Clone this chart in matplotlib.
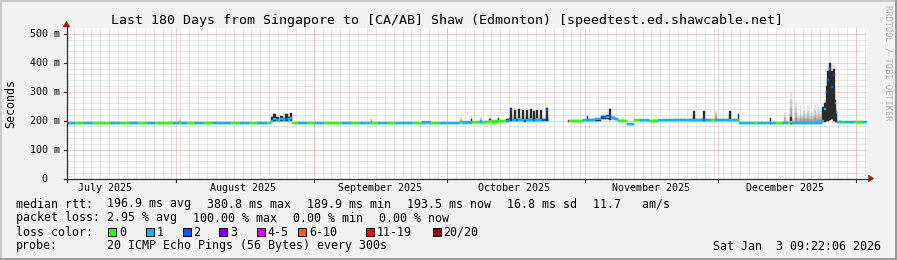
import numpy as np
import matplotlib
matplotlib.use("Agg")
import matplotlib.pyplot as plt
from matplotlib.patches import Rectangle, Polygon
from matplotlib.lines import Line2D
from datetime import datetime

plt.rcParams['font.family'] = ['DejaVu Sans Mono', 'DejaVu Sans']

# ------------------------------------------------------------------ data
title = "Last 180 Days from Singapore to [CA/AB] Shaw (Edmonton) [speedtest.ed.shawcable.net]"
y_label = "Seconds"
start_time = datetime(2025, 7, 7, 9, 22, 6)
span_days = 180
month_labels = ["July 2025", "August 2025", "September 2025", "October 2025",
                "November 2025", "December 2025"]
month_label_dates = [datetime(2025, 7, 16), datetime(2025, 8, 16), datetime(2025, 9, 16),
                     datetime(2025, 10, 16), datetime(2025, 11, 16), datetime(2025, 12, 16)]
month_starts = [datetime(2025, 8, 1), datetime(2025, 9, 1), datetime(2025, 10, 1),
                datetime(2025, 11, 1), datetime(2025, 12, 1), datetime(2026, 1, 1)]
minor_grid_start = datetime(2025, 7, 9)
minor_grid_step_days = 2
y_max = 519.4
y_ticks = [0, 100, 200, 300, 400, 500]
y_tick_labels = ["0", "100 m", "200 m", "300 m", "400 m", "500 m"]
y_minor_step = 20

loss_labels = ["0", "1", "2", "3", "4-5", "6-10", "11-19", "20/20"]
loss_colors = ["#26ff00", "#00b8ff", "#0059ff", "#7e00ff", "#dd00ff", "#ff5e00", "#ff0000", "#a10000"]

# bins: start (days since start_time), each bin runs until the next start
t_start = [
    0, 2, 4, 6, 8, 10, 12, 14, 16, 18, 20, 22, 24, 25.3, 25.7, 27, 29, 31, 33, 35, 37, 39, 41, 43, 45,
    46.0, 46.5, 47.2, 47.7, 48.1, 48.7, 49.2, 49.8, 50.2,
    50.7, 52, 54, 56, 58, 60, 62, 64, 66, 68, 68.4, 68.8, 70, 72, 74, 76, 78, 80, 82, 84, 86, 88,
    88.6, 89, 90.9, 91.3, 93.1, 93.5, 95.0, 95.4, 97.0, 97.4,
    98.8, 99.5, 99.88, 100.33, 100.78, 101.23, 101.68, 102.13, 102.48, 102.93, 103.28, 103.73, 104.18, 104.63,
    104.88, 105.33, 105.68, 106.13, 106.58, 107.03, 107.78, 108.23,
    108.5,
    112.75, 113.15, 116.3, 117.0, 117.3,
    119.0, 120.2, 121.4, 122.0, 122.6, 123.3,
    124.0, 126.2,
    127.6, 129, 131, 133, 135, 137, 139, 140.9, 141.4, 143.1, 143.6, 145, 146.0, 146.4, 148, 149.0, 149.4, 151.0,
    151.4, 154.6, 155.5, 158.2, 158.6, 159.6, 161.1, 161.4, 161.8, 162.3, 162.8, 163.2, 163.9, 164.25,
    165.0, 165.35, 165.8, 166.15, 166.6, 166.95, 167.4, 167.75, 168.2, 168.55, 169.0, 169.35,
    170.0, 170.4, 170.8, 171.2, 171.6, 172.0, 172.4, 172.8, 173.1,
    173.4, 174.5, 175.2, 177.5, 179.3,
]
median_ms = [
    192, 192, 193, 192, 192, 191, 192, 192, 192, 193, 192, 192, 192, 193, 192, 192, 191, 192, 192, 192, 192, 193, 192, 192, 192,
    200, 205, 203, 198, 205, 204, 206, 204, 208,
    193, 193, 192, 193, 193, 193, 192, 193, 193, 193, 194, 193, 193, 192, 193, 193, 193, 194, 193, 193, 193, 193,
    195, 194, 196, 195, 197, 196, 198, 197, 199, 198,
    200, 203, 238, 201, 203, 202, 204, 201, 202, 200, 203, 201, 204, 202,
    203, 201, 204, 202, 203, 201, 236, 202,
    np.nan,
    198, 200, 202, 202, 203,
    205, 212, 213, 216, 210, 206,
    200, 188,
    201, 201, 200, 201, 201, 202, 201, 203, 201, 204, 201, 201, 202, 201, 201, 203, 201, 202,
    192, 192, 192, 194, 192, 192, 192, 192, 192, 192, 195, 192, 192, 192,
    192, 192, 192, 192, 192, 192, 192, 192, 192, 192, 192, 192,
    200, 240, 298, 340, 380, 317, 359, 262, 229,
    196, 195, 195, 196, 195,
]
loss_idx = [
    1, 0, 1, 0, 0, 1, 0, 1, 0, 1, 0, 0, 1, 0, 1, 0, 1, 0, 1, 1, 0, 1, 0, 1, 0,
    1, 1, 1, 0, 1, 1, 2, 1, 1,
    0, 1, 0, 1, 0, 0, 1, 0, 1, 0, 1, 0, 1, 0, 1, 1, 0, 1, 0, 1, 1, 1,
    0, 1, 1, 0, 1, 0, 0, 0, 0, 0,
    1, 1, 3, 1, 1, 2, 1, 1, 1, 2, 1, 1, 1, 1,
    2, 1, 1, 1, 1, 2, 2, 1,
    0,
    6, 0, 1, 1, 1,
    1, 2, 1, 2, 1, 1,
    0, 1,
    0, 1, 0, 1, 1, 1, 1, 1, 1, 2, 1, 0, 1, 1, 1, 1, 1, 0,
    1, 0, 1, 1, 1, 0, 1, 1, 1, 0, 0, 1, 1, 1,
    1, 1, 1, 1, 1, 1, 1, 1, 1, 1, 1, 1,
    1, 1, 2, 2, 2, 2, 3, 1, 1,
    1, 0, 1, 0, 1,
]
smoke_min_ms = [
    188, 188, 189, 188, 188, 187, 188, 188, 188, 189, 188, 188, 188, 189, 188, 188, 187, 188, 188, 188, 188, 189, 188, 188, 188,
    196, 198, 198, 194, 198, 198, 198, 198, 200,
    189, 189, 188, 189, 189, 189, 188, 189, 189, 189, 190, 189, 189, 188, 189, 189, 189, 190, 189, 189, 189, 189,
    191, 190, 192, 191, 193, 192, 194, 193, 195, 194,
    196, 198, 198, 197, 198, 198, 198, 197, 198, 196, 198, 197, 198, 198,
    198, 197, 198, 198, 198, 197, 198, 198,
    np.nan,
    194, 196, 198, 198, 199,
    200, 204, 206, 202, 204, 202,
    196, 184,
    197, 197, 196, 197, 197, 198, 197, 198, 197, 198, 197, 197, 198, 197, 197, 198, 197, 198,
    188, 188, 188, 189, 188, 188, 188, 188, 188, 188, 189, 188, 188, 188,
    188, 188, 188, 188, 188, 188, 188, 188, 188, 188, 188, 188,
    194, 196, 198, 200, 202, 204, 200, 196, 194,
    192, 191, 191, 192, 191,
]
smoke_max_ms = [
    196, 196, 197, 196, 196, 195, 196, 196, 196, 197, 196, 196, 196, 205, 196, 196, 195, 196, 196, 197, 196, 197, 196, 196, 197,
    216, 225, 215, 206, 219, 214, 225, 224, 228,
    197, 197, 196, 197, 197, 197, 196, 197, 197, 197, 210, 197, 197, 196, 197, 197, 197, 198, 197, 197, 198, 198,
    212, 199, 217, 200, 214, 201, 212, 202, 216, 203,
    208, 212, 248, 214, 242, 214, 244, 212, 240, 214, 242, 212, 244, 214,
    238, 212, 242, 214, 240, 214, 246, 210,
    np.nan,
    206, 204, 207, 218, 209,
    214, 222, 224, 242, 218, 212,
    205, 193,
    206, 206, 205, 206, 207, 208, 208, 240, 208, 238, 208, 207, 234, 208, 208, 236, 208, 228,
    198, 197, 199, 212, 199, 198, 200, 228, 200, 199, 298, 205, 264, 215,
    252, 220, 248, 222, 250, 225, 246, 225, 254, 230, 252, 236,
    250, 272, 335, 390, 421, 395, 392, 290, 242,
    201, 200, 200, 201, 200,
]
smoke_core_ms = [
    0, 0, 0, 0, 0, 0, 0, 0, 0, 0, 0, 0, 0, 0, 0, 0, 0, 0, 0, 0, 0, 0, 0, 0, 0,
    212, 222, 212, 0, 216, 210, 222, 214, 226,
    0, 0, 0, 0, 0, 0, 0, 0, 0, 0, 0, 0, 0, 0, 0, 0, 0, 0, 0, 0, 0, 0,
    0, 0, 206, 0, 0, 0, 204, 0, 208, 0,
    204, 208, 244, 0, 238, 0, 240, 0, 236, 0, 238, 0, 240, 0,
    234, 0, 238, 0, 236, 0, 242, 0,
    0,
    0, 0, 0, 216, 0,
    207, 216, 218, 240, 212, 207,
    0, 0,
    0, 0, 0, 0, 0, 0, 0, 234, 0, 234, 0, 0, 0, 0, 0, 233, 0, 224,
    0, 0, 0, 210, 0, 0, 0, 0, 0, 0, 212, 0, 0, 0,
    0, 0, 0, 0, 0, 0, 0, 0, 0, 0, 0, 0,
    246, 262, 321, 372, 398, 370, 380, 272, 232,
    0, 0, 0, 0, 0,
]

legend_line1 = [("median rtt:", 16), ("196.9 ms avg", 107), ("380.8 ms max", 207),
                ("189.9 ms min", 307), ("193.5 ms now", 407), ("16.8 ms sd", 507),
                ("11.7   am/s", 593)]
legend_line2 = [("packet loss:", 16), ("2.95 % avg", 107), ("100.00 % max", 193.3),
                ("0.00 % min", 293.3), ("0.00 % now", 379.3)]
legend_line3_label = "loss color:"
legend_boxes_x = [108.3, 145.7, 182.7, 219.3, 256.7, 298.3, 365.7, 432.7]
legend_line4 = [("probe:", 16), ("20 ICMP Echo Pings (56 Bytes) every 300s", 107)]
timestamp = "Sat Jan  3 09:22:06 2026"
watermark = "RRDTOOL / TOBI OETIKER"

n = len(t_start)
assert all(len(a) == n for a in (median_ms, loss_idx, smoke_min_ms, smoke_max_ms, smoke_core_ms))

# ------------------------------------------------------------------ figure
W, H, DPI = 897, 260, 100
BACK = "#f2f2f2"
fig = plt.figure(figsize=(W / DPI, H / DPI), dpi=DPI, facecolor=BACK)


def fx(x):
    return x / W


def fy(y):
    return 1 - y / H


AX_L, AX_R, AX_T, AX_B = 66.5, 866.5, 28.2, 178.5
ax = fig.add_axes([fx(AX_L), fy(AX_B), (AX_R - AX_L) / W, (AX_B - AX_T) / H])
ax.set_xlim(0, span_days)
ax.set_ylim(0, y_max)
ax.set_facecolor("white")
for s in ax.spines.values():
    s.set_visible(False)
ax.set_xticks([])
ax.set_yticks([])


def dday(dt):
    return (dt - start_time).total_seconds() / 86400.0


def xpx(d):
    return AX_L + d * (AX_R - AX_L) / span_days


def ypx(v):
    return AX_B - v * (AX_B - AX_T) / y_max


MINOR = "#d0d0d0"
MAJOR = "#eba0a0"
glw = 0.72
gkw = dict(lw=glw, dashes=(1, 1))
for v in range(y_minor_step, int(y_max), y_minor_step):
    if v % 100:
        ax.axhline(v, color=MINOR, zorder=0.5, **gkw)
d = dday(minor_grid_start)
while d < span_days:
    ax.axvline(d, color=MINOR, zorder=0.5, **gkw)
    d += minor_grid_step_days
for v in y_ticks[1:]:
    ax.axhline(v, color=MAJOR, zorder=0.6, **gkw)
for ms in month_starts:
    ax.axvline(dday(ms), color=MAJOR, zorder=0.6, **gkw)

# ---- smoke + median
t = np.array(t_start + [span_days], float)
left = t[:-1]
width = np.diff(t)
med = np.array(median_ms, float)
smin = np.array(smoke_min_ms, float)
smax = np.array(smoke_max_ms, float)
score = np.array(smoke_core_ms, float)
loss = np.array(loss_idx)
valid = ~np.isnan(med)

smoke_levels = [(1.0, "#e2e2e2"), (0.75, "#cbcbcb"), (0.5, "#b2b2b2"), (0.3, "#999999")]
for frac, col in smoke_levels:
    top = smin + frac * (smax - smin)
    ax.bar(left[valid], (top - smin)[valid], width[valid], bottom=smin[valid], align="edge",
           color=col, edgecolor=col, linewidth=0.2, zorder=2)
m = valid & (score > 0)
ax.bar(left[m], (score - smin)[m], width[m], bottom=smin[m], align="edge",
       color="#2a2a2a", edgecolor="#2a2a2a", linewidth=0.2, zorder=3)
band = 3.8
cols = np.array([loss_colors[i] for i in loss])
ax.bar(left[valid], 2 * band, width[valid], bottom=med[valid] - band, align="edge",
       color=cols[valid], edgecolor=cols[valid], linewidth=0.2, zorder=4)

# ---- axes lines, ticks, arrows (figure pixel space)
AXIS = "#2c2c2c"
ARROW = "#a01e1e"
fig.add_artist(Line2D([fx(AX_L), fx(AX_L)], [fy(AX_B + 2), fy(AX_T - 2)], color=AXIS, lw=0.9))
fig.add_artist(Line2D([fx(AX_L - 3), fx(AX_R + 3)], [fy(AX_B), fy(AX_B)], color=AXIS, lw=0.9))
fig.add_artist(Polygon([(fx(AX_L), fy(21.0)), (fx(AX_L - 3.5), fy(27.0)), (fx(AX_L + 3.5), fy(27.0))],
                       closed=True, facecolor=ARROW, edgecolor=ARROW, lw=0.3))
fig.add_artist(Polygon([(fx(AX_R + 7.5), fy(AX_B)), (fx(AX_R + 2), fy(AX_B - 3.5)),
                        (fx(AX_R + 2), fy(AX_B + 3.5))],
                       closed=True, facecolor=ARROW, edgecolor=ARROW, lw=0.3))
for v in y_ticks:
    fig.add_artist(Line2D([fx(AX_L - 3), fx(AX_L)], [fy(ypx(v)), fy(ypx(v))], color=AXIS, lw=0.8))
for ms in month_starts:
    xp = xpx(dday(ms))
    fig.add_artist(Line2D([fx(xp), fx(xp)], [fy(AX_B), fy(AX_B + 3)], color=AXIS, lw=0.8))
fig.add_artist(Line2D([fx(AX_L), fx(AX_L)], [fy(AX_B), fy(AX_B + 3)], color=AXIS, lw=0.8))

# ---- texts
TICK_FS = 7.2
LEG_FS = 8.4
for v, lab in zip(y_ticks, y_tick_labels):
    xr = 59.5 if lab.endswith("m") else 59.5 - 12
    fig.text(fx(xr), fy(ypx(v) + 3.2), lab, ha="right", va="baseline", fontsize=TICK_FS, color="black")
for lab, dt in zip(month_labels, month_label_dates):
    fig.text(fx(xpx(dday(dt))), fy(190.7), lab, ha="center", va="baseline", fontsize=TICK_FS, color="black")

fig.text(fx(447.3), fy(24.0), title, ha="center", va="baseline", fontsize=9.5, color="black")
fig.text(fx(10.5), fy(104), y_label, rotation=90, ha="center", va="center", fontsize=LEG_FS)
fig.text(fx(888), fy(5), watermark, rotation=270, ha="center", va="top", fontsize=6.2, color="#b4b4b4")

for s, x in legend_line1:
    fig.text(fx(x), fy(207.5), s, ha="left", va="baseline", fontsize=LEG_FS)
for s, x in legend_line2:
    fig.text(fx(x), fy(221.5), s, ha="left", va="baseline", fontsize=LEG_FS)
fig.text(fx(16), fy(235.5), legend_line3_label, ha="left", va="baseline", fontsize=LEG_FS)
for bx, lab, col in zip(legend_boxes_x, loss_labels, loss_colors):
    fig.add_artist(Rectangle((fx(bx), fy(235.5)), 8 / W, 8 / H, facecolor=col, edgecolor="black", lw=0.72))
    fig.text(fx(bx + 10.5), fy(235.5), lab, ha="left", va="baseline", fontsize=LEG_FS)
for s, x in legend_line4:
    fig.text(fx(x), fy(249.5), s, ha="left", va="baseline", fontsize=LEG_FS)
fig.text(fx(881), fy(249.5), timestamp, ha="right", va="baseline", fontsize=LEG_FS)

# ---- 3D-ish border
fig.add_artist(Rectangle((0, fy(2)), 1, 2 / H, facecolor="#cbcbcb", edgecolor="none"))
fig.add_artist(Rectangle((0, 0), 2 / W, 1, facecolor="#cbcbcb", edgecolor="none"))
fig.add_artist(Rectangle((0, 0), 1, 2 / H, facecolor="#999999", edgecolor="none"))
fig.add_artist(Rectangle((fx(W - 2), 0), 2 / W, 1, facecolor="#999999", edgecolor="none"))

fig.savefig("out.png", dpi=DPI, facecolor=BACK)
